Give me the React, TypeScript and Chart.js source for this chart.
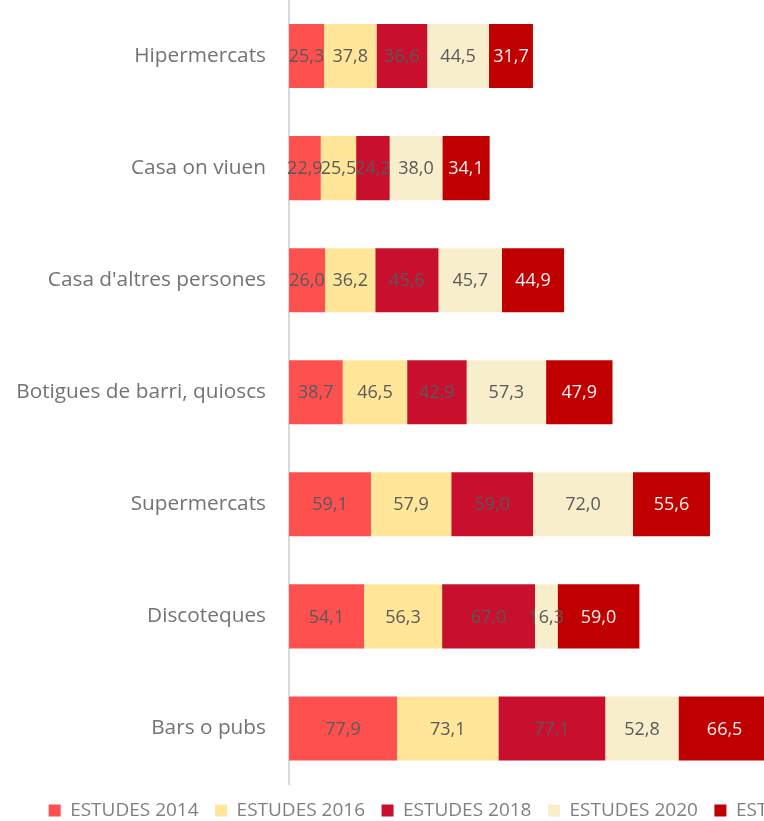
import React, { useEffect, useRef } from "react";
import { Chart, registerables } from "chart.js";

Chart.register(...registerables);

const categories = [
  "Hipermercats",
  "Casa on viuen",
  "Casa d'altres persones",
  "Botigues de barri, quioscs",
  "Supermercats",
  "Discoteques",
  "Bars o pubs",
];

const seriesNames = ["ESTUDES 2014", "ESTUDES 2016", "ESTUDES 2018", "ESTUDES 2020", "ESTUDES 2022"];

const values2014 = [25.3, 22.9, 26.0, 38.7, 59.1, 54.1, 77.9];
const values2016 = [37.8, 25.5, 36.2, 46.5, 57.9, 56.3, 73.1];
const values2018 = [36.6, 24.2, 45.6, 42.9, 59.0, 67.0, 77.1];
const values2020 = [44.5, 38.0, 45.7, 57.3, 72.0, 16.3, 52.8];
const values2022 = [31.7, 34.1, 44.9, 47.9, 55.6, 59.0, 66.5];

const seriesValues = [values2014, values2016, values2018, values2020, values2022];
const seriesColors = ["#FF5050", "#FFE699", "#C8102E", "#F8EECC", "#C00000"];
const labelColors = ["#595959", "#595959", "#595959", "#595959", "#F5F0F0"];

const FONT = "'Open Sans', 'Noto Sans', sans-serif";

const valueLabels = {
  id: "valueLabels",
  afterDatasetsDraw(chart: any) {
    const ctx = chart.ctx;
    ctx.save();
    ctx.font = `18px ${FONT}`;
    ctx.textAlign = "center";
    ctx.textBaseline = "middle";
    chart.data.datasets.forEach((ds: any, di: number) => {
      const meta = chart.getDatasetMeta(di);
      if (meta.hidden) return;
      ctx.fillStyle = labelColors[di];
      meta.data.forEach((el: any, i: number) => {
        const v = ds.data[i];
        const { x, base, y } = el.getProps(["x", "base", "y"], true);
        const cx = (x + base) / 2;
        ctx.fillText(v.toFixed(1).replace(".", ","), cx, y + 1);
      });
    });
    ctx.restore();
  },
};

export default function App() {
  const ref = useRef<HTMLCanvasElement | null>(null);

  useEffect(() => {
    document.body.style.margin = "0";
    const canvas = ref.current!;
    const chart = new Chart(canvas, {
      type: "bar",
      data: {
        labels: categories,
        datasets: seriesNames.map((name, i) => ({
          label: name,
          data: seriesValues[i],
          backgroundColor: seriesColors[i],
          borderWidth: 0,
          barPercentage: 0.5714,
          categoryPercentage: 1,
        })),
      },
      options: {
        indexAxis: "y",
        responsive: false,
        animation: false,
        devicePixelRatio: 1,
        layout: { padding: { left: 0, right: 12, top: 0, bottom: 0 } },
        scales: {
          x: {
            stacked: true,
            display: false,
            min: 0,
            max: 450,
          },
          y: {
            stacked: true,
            grid: { display: false, drawTicks: false },
            border: { display: true, color: "#D9D9D9", width: 2 },
            ticks: {
              color: "#737373",
              font: { family: FONT, size: 20.8 },
              padding: 23,
            },
            afterFit(scale: any) {
              scale.width = 289;
              scale.paddingTop = 0;
              scale.paddingBottom = 0;
            },
          },
        },
        plugins: {
          legend: {
            position: "bottom",
            labels: {
              boxWidth: 12,
              boxHeight: 12,
              padding: 16.5,
              color: "#808080",
              font: { family: FONT, size: 19 },
            },
          },
          tooltip: { enabled: false },
        },
      },
      plugins: [valueLabels],
    });
    return () => chart.destroy();
  }, []);

  return (
    <div
      style={{
        position: "fixed",
        left: 0,
        top: 0,
        width: 764,
        height: 821,
        overflow: "hidden",
        background: "#ffffff",
      }}
    >
      <canvas ref={ref} width={925} height={830} style={{ display: "block" }} />
    </div>
  );
}
